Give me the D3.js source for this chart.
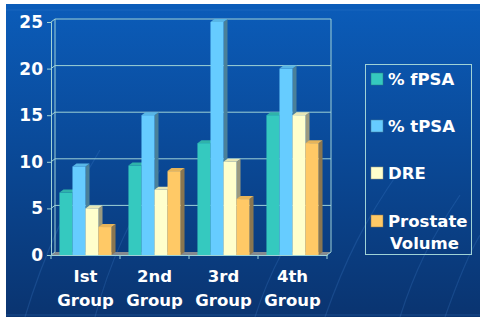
<!DOCTYPE html>
<html>
<head>
<meta charset="utf-8">
<script src="https://cdn.jsdelivr.net/npm/d3@7"></script>
<style>
  body { margin: 0; background: #fff; }
  svg { display: block; font-family: "DejaVu Sans", Verdana, sans-serif; }
</style>
</head>
<body>
<div id="chart"></div>
<script>
var svgWidth = 480;
var svgHeight = 322;

// data
var groups = ["1", "2", "3", "4"];
var groupLines = [["Ist", "Group"], ["2nd", "Group"], ["3rd", "Group"], ["4th", "Group"]];
var seriesNames = ["% fPSA", "% tPSA", "DRE", "Prostate Volume"];
var fpsa = [6.7, 9.6, 12, 15];
var tpsa = [9.5, 15, 25, 20];
var dre = [5, 7, 10, 15];
var prostate = [3, 9, 6, 12];
var yTicks = [0, 5, 10, 15, 20, 25];

var seriesValues = [fpsa, tpsa, dre, prostate];
var colors = [
  { front: "#35c9bf", side: "#2a7d80", top: "#2fb3aa" },
  { front: "#66ccff", side: "#4a8099", top: "#58b6e6" },
  { front: "#ffffcc", side: "#9a9a80", top: "#e6e6b6" },
  { front: "#ffc966", side: "#8a7650", top: "#e6b45a" }
];

var dx = 4, dy = -3; // depth offset of the 3d plot

var svg = d3.select("#chart").append("svg")
  .attr("width", svgWidth)
  .attr("height", svgHeight);

var defs = svg.append("defs");
var grad = defs.append("linearGradient")
  .attr("id", "bg")
  .attr("x1", 0).attr("y1", 0).attr("x2", 0).attr("y2", 1);
grad.append("stop").attr("offset", "0%").attr("stop-color", "#0b5cb9");
grad.append("stop").attr("offset", "45%").attr("stop-color", "#0a4a99");
grad.append("stop").attr("offset", "100%").attr("stop-color", "#0a3470");

// background panel
svg.append("rect")
  .attr("x", 6).attr("y", 4)
  .attr("width", svgWidth - 6).attr("height", 313)
  .attr("fill", "url(#bg)");

svg.append("line")
  .attr("x1", 6).attr("x2", svgWidth).attr("y1", 10).attr("y2", 10)
  .attr("stroke", "#3a7fd0").attr("stroke-opacity", 0.3);
svg.append("line")
  .attr("x1", 6).attr("x2", svgWidth).attr("y1", 315).attr("y2", 315)
  .attr("stroke", "#3a7fd0").attr("stroke-opacity", 0.3);

// faint swoosh lines in the background
var swooshes = [
  "M25,317 C45,250 70,200 100,150",
  "M95,317 C110,260 130,220 160,170",
  "M255,317 C270,270 290,235 320,190",
  "M325,317 C345,260 365,220 400,170",
  "M400,317 C415,270 430,240 460,195",
  "M445,317 C458,280 468,255 480,235"
];
svg.selectAll("path.swoosh")
  .data(swooshes)
  .enter()
  .append("path")
  .attr("class", "swoosh")
  .attr("d", d => d)
  .attr("fill", "none")
  .attr("stroke", "#4a8ad8")
  .attr("stroke-opacity", 0.22)
  .attr("stroke-width", 1.2);

// scales (front plane)
var x0 = d3.scaleBand()
  .domain(groups)
  .range([51, 327])
  .padding(0);

var x1 = d3.scaleBand()
  .domain(d3.range(seriesNames.length))
  .range([0, x0.bandwidth()])
  .paddingInner(0)
  .paddingOuter(0.65);

var y = d3.scaleLinear()
  .domain([0, 25])
  .range([255, 22]);

var gridColor = "#9fd2d6";

// floor
svg.append("path")
  .attr("d", `M51,${y(0)} L327,${y(0)} L${327 + dx},${y(0) + dy} L${51 + dx},${y(0) + dy} Z`)
  .attr("fill", "#858a90");

// back wall gridlines + left wall diagonals
var grid = svg.append("g");
yTicks.forEach(function(t) {
  if (t > 0) {
    grid.append("line")
      .attr("x1", 51 + dx).attr("x2", 327 + dx)
      .attr("y1", y(t) + dy).attr("y2", y(t) + dy)
      .attr("stroke", gridColor).attr("stroke-width", 1);
  }
  grid.append("line")
    .attr("x1", 51).attr("x2", 51 + dx)
    .attr("y1", y(t)).attr("y2", y(t) + dy)
    .attr("stroke", gridColor).attr("stroke-width", 1);
});
grid.append("line")
  .attr("x1", 51 + dx).attr("x2", 51 + dx)
  .attr("y1", y(0) + dy).attr("y2", y(25) + dy)
  .attr("stroke", gridColor);
grid.append("line")
  .attr("x1", 327 + dx).attr("x2", 327 + dx)
  .attr("y1", y(0) + dy).attr("y2", y(25) + dy)
  .attr("stroke", gridColor);
grid.append("line")
  .attr("x1", 327).attr("x2", 327 + dx)
  .attr("y1", y(0)).attr("y2", y(0) + dy)
  .attr("stroke", gridColor);

// bars
var bars = svg.append("g");
groups.forEach(function(g, gi) {
  seriesNames.forEach(function(s, si) {
    var v = seriesValues[si][gi];
    var bx = x0(g) + x1(si);
    var bw = x1.bandwidth();
    var by = y(v);
    var b0 = y(0);
    var c = colors[si];
    // side face
    bars.append("path")
      .attr("d", `M${bx + bw},${by} L${bx + bw + dx},${by + dy} L${bx + bw + dx},${b0 + dy} L${bx + bw},${b0} Z`)
      .attr("fill", c.side);
    // top face
    bars.append("path")
      .attr("d", `M${bx},${by} L${bx + dx},${by + dy} L${bx + bw + dx},${by + dy} L${bx + bw},${by} Z`)
      .attr("fill", c.top);
    // front face
    bars.append("rect")
      .attr("x", bx).attr("y", by)
      .attr("width", bw).attr("height", b0 - by)
      .attr("fill", c.front);
  });
});

// axes
var leftAxis = d3.axisLeft(y).tickValues(yTicks).tickSize(4).tickPadding(4);
var yAxis = svg.append("g")
  .attr("transform", "translate(51,0)")
  .call(leftAxis);
yAxis.select(".domain").attr("stroke", gridColor);
yAxis.selectAll(".tick line").attr("stroke", gridColor);
yAxis.selectAll(".tick text")
  .attr("fill", "#ffffff")
  .attr("font-size", 17)
  .attr("font-weight", "bold")
  .attr("font-family", "DejaVu Sans, Verdana, sans-serif");

var bottomAxis = d3.axisBottom(x0).tickSize(0).tickFormat("");
var xAxis = svg.append("g")
  .attr("transform", `translate(0,${y(0)})`)
  .call(bottomAxis);
xAxis.select(".domain").attr("stroke", gridColor);

// boundary ticks under the floor
svg.selectAll("line.gtick")
  .data(groups.concat(["end"]))
  .enter()
  .append("line")
  .attr("class", "gtick")
  .attr("x1", (d, i) => 51 + i * x0.step())
  .attr("x2", (d, i) => 51 + i * x0.step())
  .attr("y1", y(0)).attr("y2", y(0) + 4)
  .attr("stroke", gridColor);

// group labels (two lines)
var labels = svg.append("g");
groups.forEach(function(g, gi) {
  var cx = x0(g) + x0.bandwidth() / 2;
  var t = labels.append("text")
    .attr("x", cx)
    .attr("text-anchor", "middle")
    .attr("fill", "#ffffff")
    .attr("font-size", 16.5)
    .attr("font-weight", "bold");
  t.append("tspan").attr("x", cx).attr("y", 282).text(groupLines[gi][0]);
  t.append("tspan").attr("x", cx).attr("y", 306).text(groupLines[gi][1]);
});

// legend
var legend = svg.append("g");
legend.append("rect")
  .attr("x", 365.5).attr("y", 64.5)
  .attr("width", 106).attr("height", 190)
  .attr("fill", "none")
  .attr("stroke", gridColor)
  .attr("stroke-width", 1);

var legendRows = [
  { lines: ["% fPSA"], y: 85 },
  { lines: ["% tPSA"], y: 132 },
  { lines: ["DRE"], y: 179 },
  { lines: ["Prostate", "Volume"], y: 227 }
];
legendRows.forEach(function(r, i) {
  legend.append("rect")
    .attr("x", 371).attr("y", r.y - 12)
    .attr("width", 12).attr("height", 12)
    .attr("fill", colors[i].front)
    .attr("stroke", colors[i].side)
    .attr("stroke-width", 0.5);
  r.lines.forEach(function(line, li) {
    legend.append("text")
      .attr("x", li === 0 ? 388 : 390)
      .attr("y", r.y + li * 22)
      .attr("fill", "#ffffff")
      .attr("font-size", 16.5)
      .attr("font-weight", "bold")
      .text(line);
  });
});
</script>
</body>
</html>
